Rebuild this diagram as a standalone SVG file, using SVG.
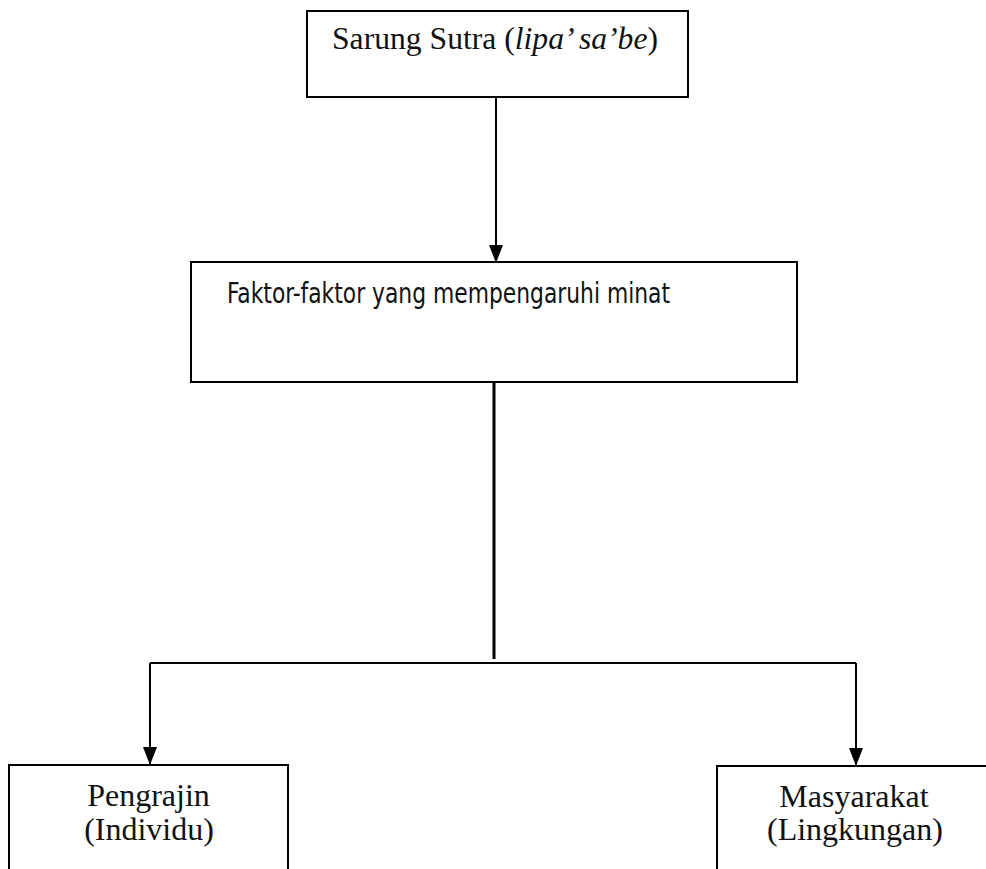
<svg xmlns="http://www.w3.org/2000/svg" width="986" height="869" viewBox="0 0 986 869">
<defs>
<style>
.box{fill:#fff;stroke:#000;stroke-width:2}
.serif{font-family:"Liberation Serif","Times New Roman",serif;font-size:32px;fill:#111}
.sans{font-family:"Liberation Sans Narrow","DejaVu Sans Condensed",Lato,sans-serif;font-size:28px;fill:#111}
.ln{stroke:#000;fill:none}
</style>
<marker id="arr" markerWidth="18" markerHeight="14" refX="17" refY="7" orient="auto" markerUnits="userSpaceOnUse" viewBox="0 0 18 14">
<path d="M0,0 L18,7 L0,14 Z" fill="#000"/>
</marker>
</defs>
<rect width="986" height="869" fill="#fff"/>
<g id="connectors">
<line class="ln" x1="496" y1="97" x2="496" y2="262" stroke-width="2" marker-end="url(#arr)"/>
<line class="ln" x1="494" y1="383" x2="494" y2="659" stroke-width="3"/>
<line class="ln" x1="150" y1="663" x2="856" y2="663" stroke-width="2"/>
<line class="ln" x1="150" y1="663" x2="150" y2="764" stroke-width="2" marker-end="url(#arr)"/>
<line class="ln" x1="856" y1="663" x2="856" y2="765" stroke-width="2" marker-end="url(#arr)"/>
</g>
<g id="node-sarung">
<rect class="box" x="307" y="11" width="381" height="86"/>
<text class="serif" x="332" y="49" textLength="326" lengthAdjust="spacingAndGlyphs">Sarung Sutra (<tspan font-style="italic">lipa’ sa’be</tspan>)</text>
</g>
<g id="node-faktor">
<rect class="box" x="191" y="262" width="606" height="120" stroke-width="2.5"/>
<text class="sans" x="227" y="303" textLength="443" lengthAdjust="spacingAndGlyphs">Faktor-faktor yang mempengaruhi minat</text>
</g>
<g id="node-pengrajin">
<rect class="box" x="9" y="765" width="279" height="110"/>
<text class="serif" x="148.5" y="806" text-anchor="middle">Pengrajin</text>
<text class="serif" x="149" y="840" text-anchor="middle">(Individu)</text>
</g>
<g id="node-masyarakat">
<rect class="box" x="717" y="766" width="280" height="110"/>
<text class="serif" x="854" y="807" text-anchor="middle">Masyarakat</text>
<text class="serif" x="855" y="840" text-anchor="middle">(Lingkungan)</text>
</g>
</svg>
